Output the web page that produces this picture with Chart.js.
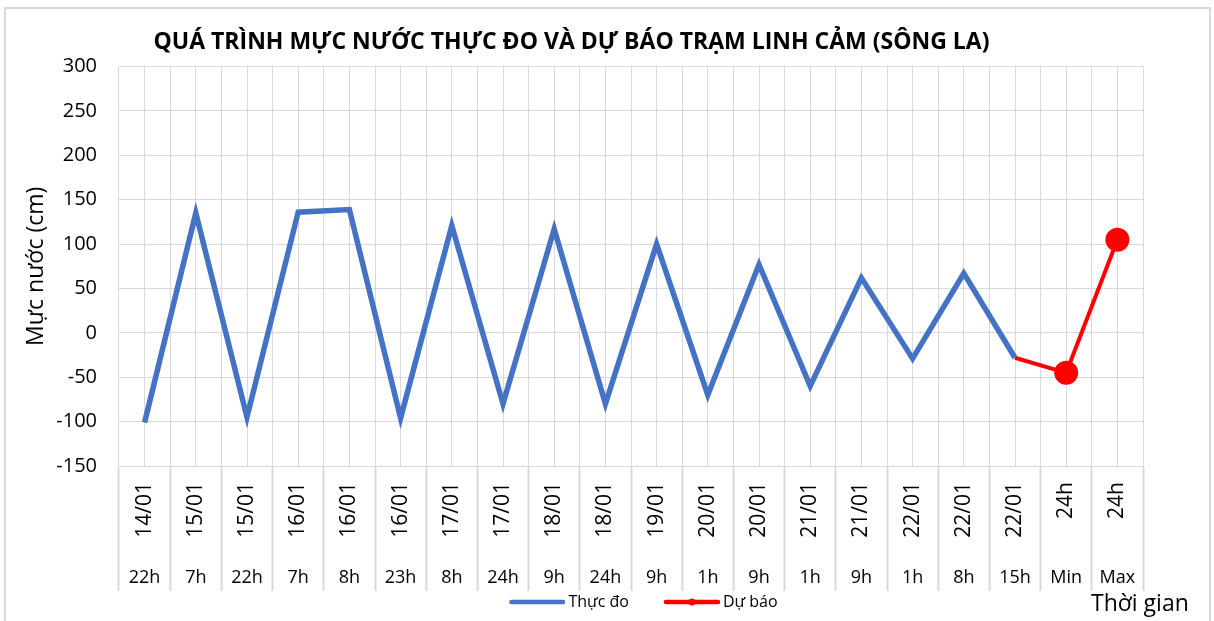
<!DOCTYPE html>
<html>
<head>
<meta charset="utf-8">
<script src="https://cdn.jsdelivr.net/npm/chart.js@4.4.1/dist/chart.umd.min.js"></script>
<style>
  body { margin: 0; background: #fff; }
  #wrap { position: relative; width: 1214px; height: 621px; overflow: hidden; }
  #frame { position: absolute; left: 4px; top: 7px; width: 1203px; height: 700px; border: 2px solid #d9d9d9; }
  #chart { position: absolute; left: 0; top: 0; }
  #xtitle { position: absolute; left: 1091px; top: 586px; font: 23px 'Open Sans', sans-serif; color: #000; }
</style>
</head>
<body>
<div id="wrap">
  <div id="frame"></div>
  <canvas id="chart" width="1214" height="621"></canvas>
  <div id="xtitle">Thời gian</div>
</div>
<script>
// ngày (hàng trên, chữ dọc) và giờ (hàng dưới)
var dateLabels = ['14/01', '15/01', '15/01', '16/01', '16/01', '16/01', '17/01', '17/01', '18/01', '18/01',
                  '19/01', '20/01', '20/01', '21/01', '21/01', '22/01', '22/01', '22/01', '24h', '24h'];
var hourLabels = ['22h', '7h', '22h', '7h', '8h', '23h', '8h', '24h', '9h', '24h',
                  '9h', '1h', '9h', '1h', '9h', '1h', '8h', '15h', 'Min', 'Max'];

// mực nước (cm)
var thucDo = [-101, 135, -95, 136, 139, -96, 121, -80, 117, -80,
              100, -70, 77, -60, 62, -29, 67, -28, null, null];
var duBao = [null, null, null, null, null, null, null, null, null, null,
             null, null, null, null, null, null, null, -28, -45, 105];

var yTicks = [-150, -100, -50, 0, 50, 100, 150, 200, 250, 300];

var FONT = "'Open Sans', sans-serif";

// small canvases used as legend markers (line, or line + dot)
function legendMark(color, width, dot) {
    var c = document.createElement('canvas');
    c.width = 86;
    c.height = 12;
    var g = c.getContext('2d');
    g.strokeStyle = color;
    g.lineWidth = width;
    g.lineCap = 'round';
    g.beginPath();
    g.moveTo(32, 6);
    g.lineTo(84, 6);
    g.stroke();
    if (dot) {
        g.fillStyle = color;
        g.beginPath();
        g.arc(58, 6, 3.5, 0, 2 * Math.PI);
        g.fill();
    }
    return c;
}

var item = document.getElementById('chart');
var myChart = new Chart(item, {
    type: 'line',
    data: {
        labels: dateLabels,
        datasets: [{
            label: 'Thực đo',
            data: thucDo,
            borderColor: '#4472c4',
            backgroundColor: '#4472c4',
            borderWidth: 5.5,
            pointRadius: 0,
            tension: 0
        }, {
            label: 'Dự báo',
            data: duBao,
            borderColor: '#ff0000',
            backgroundColor: '#ff0000',
            borderWidth: 4,
            // no marker where the forecast joins the observed line
            pointRadius: function (ctx) {
                return ctx.dataIndex === duBao.findIndex(function (v) { return v !== null; }) ? 0 : 10;
            },
            pointHoverRadius: 10,
            tension: 0
        }]
    },
    options: {
        responsive: false,
        animation: false,
        layout: {
            padding: { left: 0, right: 71, top: 0, bottom: 1 }
        },
        scales: {
            x: {
                type: 'category',
                position: 'bottom',
                weight: 0,
                offset: true,
                labels: dateLabels,
                grid: {
                    offset: true,
                    color: '#d9d9d9',
                    lineWidth: 1,
                    tickLength: 125,
                    tickWidth: 2,
                    tickColor: '#d9d9d9'
                },
                border: { color: '#d9d9d9' },
                ticks: {
                    autoSkip: false,
                    minRotation: 90,
                    maxRotation: 90,
                    padding: -109,
                    labelOffset: 0,
                    color: '#000',
                    font: { family: FONT, size: 21 }
                },
                afterFit: function (scale) { scale.height = 80; }
            },
            xc: {
                // grid lines through the category centres
                type: 'category',
                position: 'bottom',
                weight: 1,
                offset: true,
                labels: dateLabels,
                grid: { offset: false, color: '#d9d9d9', drawTicks: false },
                border: { display: false },
                ticks: { display: false },
                afterFit: function (scale) { scale.height = 0; }
            },
            x2: {
                type: 'category',
                position: 'bottom',
                weight: 2,
                offset: true,
                labels: hourLabels,
                grid: { display: false, drawTicks: false },
                border: { display: false },
                ticks: {
                    autoSkip: false,
                    maxRotation: 0,
                    padding: 21,
                    color: '#000',
                    font: { family: FONT, size: 18 }
                },
                afterFit: function (scale) { scale.height = 38; }
            },
            y: {
                position: 'left',
                min: yTicks[0],
                max: yTicks[yTicks.length - 1],
                afterBuildTicks: function (scale) {
                    scale.ticks = yTicks.map(function (v) { return { value: v }; });
                },
                grid: { color: '#d9d9d9', drawTicks: false },
                border: { display: false },
                ticks: {
                    padding: 22,
                    color: '#000',
                    font: { family: FONT, size: 20 }
                },
                title: {
                    display: true,
                    text: 'Mực nước (cm)',
                    color: '#000',
                    font: { family: FONT, size: 23 },
                    padding: { top: 23, bottom: 0 }
                },
                afterFit: function (scale) { scale.width = 119; }
            }
        },
        plugins: {
            title: {
                display: true,
                text: 'QUÁ TRÌNH MỰC NƯỚC THỰC ĐO VÀ DỰ BÁO TRẠM LINH CẢM (SÔNG LA)',
                color: '#000',
                font: { family: FONT, size: 23, weight: 'bold' },
                padding: { top: 29, bottom: 10 }
            },
            legend: {
                position: 'bottom',
                fullSize: false,
                labels: {
                    usePointStyle: true,
                    pointStyleWidth: 76,
                    padding: 10,
                    color: '#000',
                    font: { family: FONT, size: 16 },
                    generateLabels: function (chart) {
                        var items = Chart.defaults.plugins.legend.labels.generateLabels(chart);
                        items[0].pointStyle = legendMark('#4472c4', 4.5, false);
                        items[1].pointStyle = legendMark('#ff0000', 4.5, true);
                        return items;
                    }
                }
            },
            tooltip: { enabled: false }
        }
    }
});
</script>
</body>
</html>
